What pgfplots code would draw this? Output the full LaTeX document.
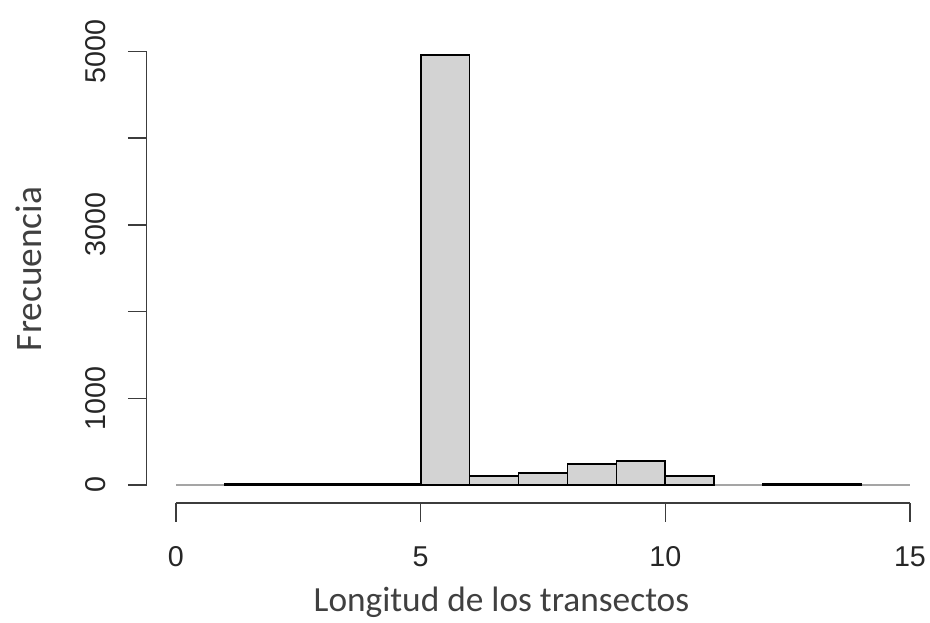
\documentclass[border=0pt]{standalone}
\usepackage{pgfplots}
\pgfplotsset{compat=1.18}
\usepackage{fontspec}
\setmainfont{Liberation Sans}
\newfontfamily\calibri{Carlito}
\definecolor{barfill}{RGB}{211,211,211}
\definecolor{basegray}{RGB}{165,165,165}
\definecolor{axisgray}{RGB}{60,60,60}
\definecolor{labelgray}{RGB}{64,64,64}
\begin{document}
\begin{tikzpicture}
\useasboundingbox (0pt,0pt) rectangle (697.5pt,466.5pt);
\begin{axis}[
  at={(109.95pt,89.25pt)}, anchor=south west,
  scale only axis,
  width=587.2pt, height=348.4pt,
  xmin=-0.6, xmax=15.4, ymin=-208, ymax=5150,
  axis lines*=left,
  axis line style={draw=none},
  clip=false,
  xtick={0,5,10,15},
  ytick={0,1000,2000,3000,4000,5000},
  yticklabels={0,1000,,3000,,5000},
  tick align=outside,
  major tick length=14pt,
  tick style={line width=1.1pt, color=axisgray},
  /pgf/number format/assume math mode=true,
  ticklabel style={font=\fontsize{21.5}{26}\selectfont, text=black!85},
  xticklabel style={anchor=center, yshift=-26.25pt},
  yticklabel style={anchor=center, xshift=-24pt, rotate=90},
]
\draw[basegray, line width=1.6pt] (axis cs:0,0) -- (axis cs:15,0);
\addplot[ybar interval, fill=barfill, draw=black, line width=1.3pt]
  coordinates {(1,15)(2,15)(3,15)(4,15)(5,4960)(6,105)(7,135)(8,240)(9,280)(10,107)(11,0)};
\addplot[ybar interval, fill=barfill, draw=black, line width=1.3pt]
  coordinates {(12,12)(13,12)(14,0)};
\draw[axisgray, line width=1.1pt] (axis cs:0,-208) -- (axis cs:15,-208);
\draw[axisgray, line width=1.1pt] (axis cs:-0.6,0) -- (axis cs:-0.6,5000);
\end{axis}
\node[anchor=base, font=\calibri\fontsize{26.5}{32}\selectfont, text=labelgray] at (376.1pt,7.7pt) {Longitud de los transectos};
\node[anchor=base, rotate=90, font=\calibri\fontsize{28}{34}\selectfont, text=labelgray] at (31.3pt,264.75pt) {Frecuencia};
\end{tikzpicture}
\end{document}
